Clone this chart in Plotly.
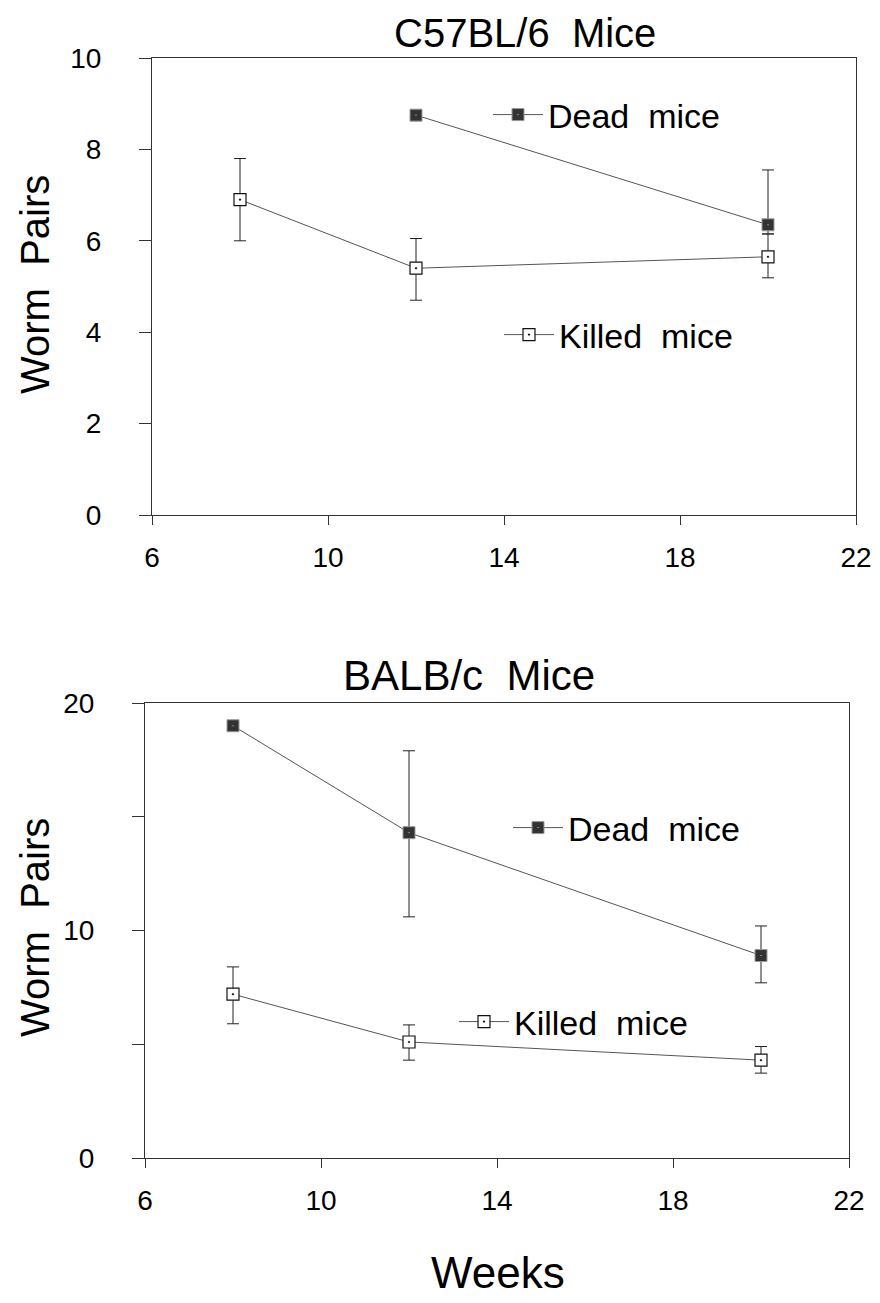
import plotly.graph_objects as go

# ---- data ----
x_ticks = [6, 10, 14, 18, 22]

c57_killed_weeks = [8, 12, 20]
c57_killed = [6.9, 5.4, 5.65]
c57_killed_plus = [0.9, 0.65, 0.5]
c57_killed_minus = [0.9, 0.7, 0.46]

c57_dead_weeks = [12, 20]
c57_dead = [8.75, 6.35]
c57_dead_plus = [0, 1.2]
c57_dead_minus = [0, 0.2]

balb_killed_weeks = [8, 12, 20]
balb_killed = [7.2, 5.1, 4.3]
balb_killed_plus = [1.2, 0.75, 0.6]
balb_killed_minus = [1.3, 0.8, 0.57]

balb_dead_weeks = [8, 12, 20]
balb_dead = [19.0, 14.3, 8.9]
balb_dead_plus = [0, 3.6, 1.3]
balb_dead_minus = [0, 3.7, 1.2]

FONT = "Liberation Sans, Arial, sans-serif"
LINE = "#555555"
AX = "#333333"

fig = go.Figure()

def err(plus, minus):
    return dict(type="data", symmetric=False, array=plus, arrayminus=minus,
                color="#222222", thickness=1, width=6)

dead_marker = dict(symbol="square-dot", size=12, color="#333333",
                   line=dict(color="#999999", width=1))
killed_marker = dict(symbol="square-dot", size=12, color="white",
                     line=dict(color="#111111", width=1.2))

fig.add_trace(go.Scatter(x=c57_dead_weeks, y=c57_dead, mode="lines+markers",
                         name="Dead  mice", error_y=err(c57_dead_plus, c57_dead_minus),
                         line=dict(color=LINE, width=1), marker=dead_marker,
                         xaxis="x", yaxis="y", legend="legend"))
fig.add_trace(go.Scatter(x=c57_killed_weeks, y=c57_killed, mode="lines+markers",
                         name="Killed  mice", error_y=err(c57_killed_plus, c57_killed_minus),
                         line=dict(color=LINE, width=1), marker=killed_marker,
                         xaxis="x", yaxis="y", legend="legend2"))
fig.add_trace(go.Scatter(x=balb_dead_weeks, y=balb_dead, mode="lines+markers",
                         name="Dead  mice", error_y=err(balb_dead_plus, balb_dead_minus),
                         line=dict(color=LINE, width=1), marker=dead_marker,
                         xaxis="x2", yaxis="y2", legend="legend3"))
fig.add_trace(go.Scatter(x=balb_killed_weeks, y=balb_killed, mode="lines+markers",
                         name="Killed  mice", error_y=err(balb_killed_plus, balb_killed_minus),
                         line=dict(color=LINE, width=1), marker=killed_marker,
                         xaxis="x2", yaxis="y2", legend="legend4"))

# page has an 8px body margin; figure is sized/positioned to compensate
OFF = 8
W, H = 872, 1295

def px_x(p):
    return (p - OFF) / W

def px_y(p):
    return 1 - (p - OFF) / H

xaxis_common = dict(range=[6, 22], tickvals=x_ticks, ticks="outside", ticklen=9,
                    tickcolor=AX, showline=True, linecolor=AX, linewidth=1, mirror=True,
                    showgrid=False, zeroline=False, automargin=False,
                    tickfont=dict(family=FONT, size=28, color="black"),
                    ticklabelstandoff=8)
yaxis_common = dict(ticks="outside", ticklen=12, tickcolor=AX, showline=True,
                    linecolor=AX, linewidth=1, mirror=True, showgrid=False,
                    zeroline=False, automargin=False,
                    tickfont=dict(family=FONT, size=28, color="black"),
                    ticklabelstandoff=32)

leg_common = dict(font=dict(family=FONT, size=34, color="black"), bgcolor="rgba(0,0,0,0)",
                  xanchor="left", yanchor="middle", borderwidth=0, itemwidth=50)

fig.update_layout(
    width=W, height=H,
    margin=dict(l=0, r=0, t=0, b=0, autoexpand=False),
    paper_bgcolor="white", plot_bgcolor="white",
    showlegend=True,
    xaxis=dict(domain=[px_x(152), px_x(856)], anchor="y", **xaxis_common),
    yaxis=dict(domain=[px_y(515), px_y(58)], anchor="x", range=[0, 10],
               tickvals=[0, 2, 4, 6, 8, 10], **yaxis_common),
    xaxis2=dict(domain=[px_x(145), px_x(849)], anchor="y2", **xaxis_common),
    yaxis2=dict(domain=[px_y(1158), px_y(703)], anchor="x2", range=[0, 20],
                tickvals=[0, 5, 10, 15, 20], ticktext=["0", "", "10", "", "20"],
                **yaxis_common),
    legend=dict(x=px_x(488), y=px_y(115), **leg_common),
    legend2=dict(x=px_x(499), y=px_y(335), **leg_common),
    legend3=dict(x=px_x(508), y=px_y(828), **leg_common),
    legend4=dict(x=px_x(454), y=px_y(1022), **leg_common),
    annotations=[
        dict(text="C57BL/6  Mice", x=px_x(525), y=px_y(9), xref="paper", yref="paper",
             showarrow=False, font=dict(family=FONT, size=40, color="black"),
             xanchor="center", yanchor="top"),
        dict(text="BALB/c  Mice", x=px_x(469), y=px_y(675), xref="paper", yref="paper",
             showarrow=False, font=dict(family=FONT, size=42, color="black"),
             xanchor="center", yanchor="middle"),
        dict(text="Worm  Pairs", x=px_x(35), y=px_y(285), xref="paper", yref="paper",
             showarrow=False, textangle=-90, font=dict(family=FONT, size=40, color="black"),
             xanchor="center", yanchor="middle"),
        dict(text="Worm  Pairs", x=px_x(35), y=px_y(928), xref="paper", yref="paper",
             showarrow=False, textangle=-90, font=dict(family=FONT, size=40, color="black"),
             xanchor="center", yanchor="middle"),
        dict(text="Weeks", x=px_x(498), y=px_y(1272), xref="paper", yref="paper",
             showarrow=False, font=dict(family=FONT, size=44, color="black"),
             xanchor="center", yanchor="middle"),
    ],
)

fig.write_html("out.html")
